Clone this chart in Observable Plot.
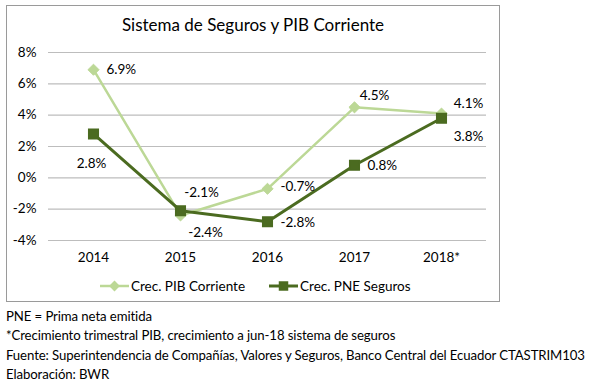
<!DOCTYPE html>
<html>
<head>
<meta charset="utf-8">
<script src="https://cdn.jsdelivr.net/npm/d3@7"></script>
<script src="https://cdn.jsdelivr.net/npm/@observablehq/plot@0.6"></script>
<style>
  html, body { margin: 0; padding: 0; background: #fff; }
  #page { position: relative; width: 605px; height: 384px; overflow: hidden; font-family: Lato, "Open Sans", sans-serif; color: #000; }
  #box { position: absolute; left: 6px; top: 5px; width: 494px; height: 297px; border: 1.5px solid #9a9a9a; box-sizing: border-box; }
  #title { position: absolute; left: 6px; width: 494px; top: 14px; text-align: center; font-size: 17px; }
  #chart { position: absolute; left: 0; top: 0; }
  #legend { position: absolute; top: 278px; left: 100px; font-size: 13.5px; display: flex; align-items: center; white-space: nowrap; }
  #legend .item { display: flex; align-items: center; }
  #legend svg { display: block; }
  .foot { position: absolute; left: 6px; font-size: 13.2px; letter-spacing: -0.1px; white-space: nowrap; }
</style>
</head>
<body>
<div id="page">
  <div id="box"></div>
  <div id="title">Sistema de Seguros y PIB Corriente</div>
  <div id="chart"></div>
  <div id="legend"></div>
  <div class="foot" style="top:308px">PNE = Prima neta emitida</div>
  <div class="foot" style="top:327px">*Crecimiento trimestral PIB, crecimiento a jun-18 sistema de seguros</div>
  <div class="foot" style="top:347px">Fuente: Superintendencia de Compañías, Valores y Seguros, Banco Central del Ecuador CTASTRIM103</div>
  <div class="foot" style="top:366px">Elaboración: BWR</div>
</div>
<script>
const years = ["2014", "2015", "2016", "2017", "2018*"];
const pib = [6.9, -2.4, -0.7, 4.5, 4.1];
const pne = [2.8, -2.1, -2.8, 0.8, 3.8];
const yTicks = [-4, -2, 0, 2, 4, 6, 8];
const seriesNames = ["Crec. PIB Corriente", "Crec. PNE Seguros"];

const lightGreen = "#bcd896";
const darkGreen = "#4b6b20";

// label placement (offsets in px) per series
const pibLabelOffsets = [[13, 0, "start"], [25, 17, "middle"], [13, -2, "start"], [20, -12, "middle"], [27, -10, "middle"]];
const pneLabelOffsets = [[-2, 30, "middle"], [21, -18, "middle"], [13, 1, "start"], [13, 0, "start"], [27, 18, "middle"]];

const pibData = years.map((y, i) => ({year: y, value: pib[i], i}));
const pneData = years.map((y, i) => ({year: y, value: pne[i], i}));
const fmt = v => v.toFixed(1) + "%";

function labelMarks(data, offsets) {
  return data.map((d, i) => Plot.text([d], {
    x: "year", y: "value", text: dd => fmt(dd.value),
    dx: offsets[i][0], dy: offsets[i][1], textAnchor: offsets[i][2],
    fontSize: 13.5, fill: "#000"
  }));
}

const chart = Plot.plot({
  width: 500,
  height: 270,
  marginLeft: 48,
  marginRight: 14,
  marginTop: 52,
  marginBottom: 30,
  style: { fontFamily: "Lato, 'Open Sans', sans-serif", fontSize: "13.5px", background: "transparent", color: "#000" },
  x: { type: "point", domain: years, padding: 0.5, label: null },
  y: { domain: [-4, 8], label: null },
  marks: [
    Plot.gridY(yTicks, { stroke: "#bdbdbd", strokeOpacity: 1, strokeWidth: 1.2 }),
    Plot.axisY(yTicks, { tickSize: 0, tickPadding: 12, tickFormat: d => d + "%", fontSize: 13.5, label: null }),
    Plot.axisX({ tickSize: 0, tickPadding: 12, fontSize: 13.5, label: null }),
    Plot.line(pibData, { x: "year", y: "value", stroke: lightGreen, strokeWidth: 2.5 }),
    Plot.line(pneData, { x: "year", y: "value", stroke: darkGreen, strokeWidth: 3 }),
    Plot.dot(pibData, { x: "year", y: "value", symbol: "diamond2", r: 5, fill: lightGreen, stroke: lightGreen, strokeWidth: 1 }),
    Plot.dot(pneData, { x: "year", y: "value", symbol: "square", r: 5.4, fill: darkGreen, stroke: darkGreen }),
    ...labelMarks(pibData, pibLabelOffsets),
    ...labelMarks(pneData, pneLabelOffsets)
  ]
});
document.getElementById("chart").appendChild(chart);

// legend
const legend = document.getElementById("legend");
const legendDefs = [
  { name: seriesNames[0], color: lightGreen, symbol: d3.symbolDiamond2, size: 75, sw: 2.5 },
  { name: seriesNames[1], color: darkGreen, symbol: d3.symbolSquare, size: 90, sw: 3 }
];
legendDefs.forEach((def, k) => {
  const item = document.createElement("div");
  item.className = "item";
  if (k > 0) item.style.marginLeft = "24px";
  const svg = d3.create("svg").attr("width", 29).attr("height", 16);
  svg.append("line").attr("x1", 0).attr("x2", 29).attr("y1", 8).attr("y2", 8)
    .attr("stroke", def.color).attr("stroke-width", def.sw);
  svg.append("path").attr("d", d3.symbol(def.symbol, def.size)())
    .attr("transform", "translate(14.5,8)").attr("fill", def.color);
  item.appendChild(svg.node());
  const span = document.createElement("span");
  span.textContent = def.name;
  span.style.marginLeft = "2px";
  item.appendChild(span);
  legend.appendChild(item);
});
</script>
</body>
</html>
